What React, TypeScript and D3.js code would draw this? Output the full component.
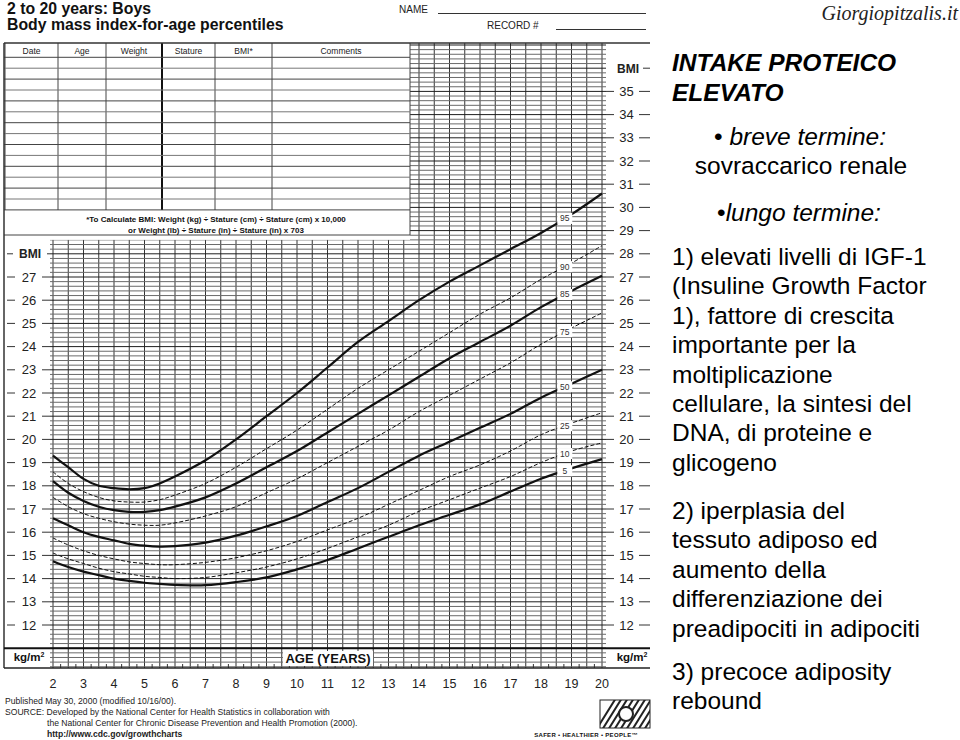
import React from "react";
import * as d3 from "d3";

// ---------- DATA ----------
const ages = [2, 2.5, 3, 3.5, 4, 4.5, 5, 5.5, 6, 7, 8, 9, 10, 11, 12, 13, 14, 15, 16, 17, 18, 19, 20];
const p95 = [19.3, 18.8, 18.3, 18.0, 17.9, 17.85, 17.9, 18.1, 18.4, 19.1, 20.0, 21.0, 22.0, 23.1, 24.2, 25.1, 26.0, 26.8, 27.5, 28.2, 28.9, 29.7, 30.6];
const p90 = [18.6, 18.1, 17.75, 17.5, 17.35, 17.3, 17.3, 17.4, 17.6, 18.1, 18.8, 19.6, 20.4, 21.3, 22.2, 23.0, 23.8, 24.6, 25.4, 26.1, 26.9, 27.6, 28.35];
const p85 = [18.2, 17.7, 17.35, 17.1, 16.95, 16.88, 16.88, 16.95, 17.1, 17.5, 18.1, 18.8, 19.5, 20.3, 21.1, 21.9, 22.7, 23.5, 24.2, 24.9, 25.7, 26.4, 27.05];
const p75 = [17.5, 17.1, 16.8, 16.6, 16.45, 16.35, 16.3, 16.3, 16.4, 16.7, 17.1, 17.7, 18.3, 19.0, 19.7, 20.4, 21.2, 21.9, 22.6, 23.3, 24.1, 24.8, 25.45];
const p50 = [16.6, 16.3, 16.0, 15.8, 15.65, 15.5, 15.42, 15.38, 15.4, 15.55, 15.85, 16.25, 16.7, 17.3, 17.9, 18.6, 19.3, 19.9, 20.5, 21.1, 21.8, 22.4, 23.0];
const p25 = [15.75, 15.45, 15.2, 15.0, 14.85, 14.72, 14.65, 14.6, 14.6, 14.7, 14.9, 15.2, 15.6, 16.1, 16.6, 17.2, 17.8, 18.4, 18.9, 19.5, 20.2, 20.7, 21.15];
const p10 = [15.1, 14.85, 14.65, 14.45, 14.3, 14.2, 14.1, 14.05, 14.0, 14.05, 14.25, 14.5, 14.85, 15.3, 15.8, 16.3, 16.9, 17.4, 17.9, 18.4, 19.0, 19.5, 19.85];
const p5 = [14.75, 14.5, 14.3, 14.15, 14.0, 13.9, 13.82, 13.77, 13.73, 13.72, 13.85, 14.05, 14.4, 14.8, 15.3, 15.8, 16.3, 16.75, 17.2, 17.75, 18.3, 18.75, 19.15];

const percentileNames = ["95", "90", "85", "75", "50", "25", "10", "5"];
const percentileValues = [p95, p90, p85, p75, p50, p25, p10, p5];
const percentileSolid = [true, false, true, false, true, false, false, true];

const ageTickLabels = d3.range(2, 21);
const leftBmiTicks = d3.range(12, 28);
const rightBmiTicks = d3.range(12, 36);

const tableHeaders = ["Date", "Age", "Weight", "Stature", "BMI*", "Comments"];
const formulaLines = [
  "*To Calculate BMI: Weight (kg) ÷ Stature (cm) ÷ Stature (cm) x 10,000",
  "or Weight (lb) ÷ Stature (in) ÷ Stature (in) x 703",
];
const titleLines = ["2 to 20 years: Boys", "Body mass index-for-age percentiles"];
const footerLines = [
  "Published May 30, 2000 (modified 10/16/00).",
  "SOURCE: Developed by the National Center for Health Statistics in collaboration with",
  "the National Center for Chronic Disease Prevention and Health Promotion (2000).",
  "http://www.cdc.gov/growthcharts",
];

const siteName = "Giorgiopitzalis.it";
const slideTitle = ["INTAKE PROTEICO", "ELEVATO"];
const bulletShort = ["breve termine:", "sovraccarico renale"];
const bulletLong = "lungo termine:";
const point1 = [
  "1) elevati livelli di IGF-1",
  "(Insuline Growth Factor",
  "1), fattore di crescita",
  "importante per la",
  "moltiplicazione",
  "cellulare, la sintesi del",
  "DNA, di proteine e",
  "glicogeno",
];
const point2 = [
  "2) iperplasia del",
  "tessuto adiposo ed",
  "aumento della",
  "differenziazione dei",
  "preadipociti in adipociti",
];
const point3 = ["3) precoce adiposity", "rebound"];

// ---------- LAYOUT ----------
const W = 960;
const H = 740;
const SANS = "'Liberation Sans', Arial, Helvetica, sans-serif";
const SERIF = "'Liberation Serif', 'Times New Roman', serif";

const x = d3.scaleLinear().domain([2, 20]).range([53, 602]);
const y = d3.scaleLinear().domain([12, 35]).range([625, 91.4]);

const frameLeft = 4;
const frameRight = 650;
const frameTop = 43;
const frameBottom = 668;
const tableRight = 410;
const tableBottom = 210;
const formulaBottom = 235;
const leftGridTopBmi = 28.6;

function valueAt(values: number[], age: number) {
  const i = d3.bisectRight(ages, age) - 1;
  const j = Math.min(i + 1, ages.length - 1);
  if (i === j) return values[i];
  const t = (age - ages[i]) / (ages[j] - ages[i]);
  return values[i] + t * (values[j] - values[i]);
}

export default function App() {
  const line = d3
    .line<[number, number]>()
    .x((d) => x(d[0]))
    .y((d) => y(d[1]))
    .curve(d3.curveCatmullRom.alpha(0.5));

  const halfYears = d3.range(2, 20.001, 0.5);
  const quarterTicks = d3.range(2.25, 20, 0.5);
  const hLines = d3.range(0, 135).map((k) => +(10.2 + k * 0.2).toFixed(1)).filter((v) => v <= 37.0);
  const gridLeft = x(2) - 3;
  const gridRight = x(20) + 4;

  const tableCols = [frameLeft + 1, 58, 106, 162, 215, 272, tableRight];
  const rowYs = d3.range(0, 15).map((k) => 57.3 + k * 10.9);

  const labelAge = 18.78;

  return (
    <svg
      width={W}
      height={H}
      viewBox={`0 0 ${W} ${H}`}
      style={{ position: "absolute", left: 0, top: 0, background: "#fff" }}
      fontFamily={SANS}
    >
      <rect x={0} y={0} width={W} height={H} fill="#fff" />

      {/* header */}
      {titleLines.map((t, i) => (
        <text key={t} x={7} y={14 + i * 16} fontSize={15.8} fontWeight="bold" fill="#111">
          {t}
        </text>
      ))}
      <text x={399} y={13} fontSize={10} fill="#222">NAME</text>
      <line x1={438} x2={646} y1={13.5} y2={13.5} stroke="#333" strokeWidth={1} />
      <text x={487} y={29} fontSize={10} fill="#222">RECORD #</text>
      <line x1={556} x2={646} y1={29.5} y2={29.5} stroke="#333" strokeWidth={1} />

      {/* vertical grid lines */}
      {halfYears.map((a) => (
        <line
          key={"v" + a}
          x1={x(a)}
          x2={x(a)}
          y1={frameTop}
          y2={frameBottom}
          stroke="#333"
          strokeWidth={1}
        />
      ))}
      {/* horizontal grid lines */}
      {hLines.map((v) => {
        const major = Math.abs(v - Math.round(v)) < 0.01;
        return (
          <line
            key={"h" + v}
            x1={gridLeft}
            x2={gridRight}
            y1={y(v)}
            y2={y(v)}
            stroke={major ? "#1e1e1e" : "#6a6a6a"}
            strokeWidth={1}
          />
        );
      })}
      {quarterTicks.map((a) => (
        <line key={"q" + a} x1={x(a)} x2={x(a)} y1={frameBottom - 4} y2={frameBottom} stroke="#333" />
      ))}

      {/* table & formula box */}
      <rect x={frameLeft} y={frameTop} width={tableRight - frameLeft} height={y(leftGridTopBmi) - frameTop} fill="#fff" />
      <rect x={frameLeft} y={frameTop} width={gridLeft - frameLeft} height={frameBottom - frameTop} fill="#fff" />
      {tableCols.map((cx, i) => (
        <line
          key={"tc" + i}
          x1={cx}
          x2={cx}
          y1={frameTop}
          y2={tableBottom}
          stroke={i === 3 ? "#111" : "#444"}
          strokeWidth={i === 3 ? 2 : 1}
        />
      ))}
      <line x1={tableRight} x2={tableRight} y1={tableBottom} y2={formulaBottom} stroke="#444" />
      {rowYs.map((ry, i) => (
        <line key={"tr" + i} x1={frameLeft} x2={tableRight} y1={ry} y2={ry} stroke={i % 2 ? "#777" : "#444"} strokeWidth={1} />
      ))}
      <line x1={frameLeft} x2={tableRight} y1={formulaBottom} y2={formulaBottom} stroke="#444" />
      {tableHeaders.map((h, i) => (
        <text
          key={h}
          x={(tableCols[i] + tableCols[i + 1]) / 2}
          y={53.5}
          fontSize={8.5}
          textAnchor="middle"
          fill="#222"
        >
          {h}
        </text>
      ))}
      {formulaLines.map((t, i) => (
        <text key={t} x={216} y={222 + i * 10.5} fontSize={8} fontWeight="bold" textAnchor="middle" fill="#111">
          {t}
        </text>
      ))}

      {/* frame */}
      <line x1={frameLeft} x2={frameRight} y1={frameTop} y2={frameTop} stroke="#333" strokeWidth={1.5} />
      <line x1={frameLeft} x2={frameLeft} y1={frameTop} y2={frameBottom} stroke="#333" strokeWidth={1.5} />
      <line x1={frameLeft} x2={frameRight} y1={frameBottom} y2={frameBottom} stroke="#222" strokeWidth={1.5} />
      <line x1={frameLeft} x2={frameRight} y1={y(11)} y2={y(11)} stroke="#111" strokeWidth={2} />

      {/* left axis */}
      <text x={30} y={y(28)} dy="0.36em" fontSize={12} fontWeight="bold" textAnchor="middle" fill="#222">BMI</text>
      <line x1={7} x2={13} y1={y(28)} y2={y(28)} stroke="#333" />
      <line x1={47} x2={gridLeft} y1={y(28)} y2={y(28)} stroke="#333" />
      {leftBmiTicks.map((v) => (
        <g key={"lt" + v}>
          <line x1={7} x2={15} y1={y(v)} y2={y(v)} stroke="#333" />
          <line x1={42} x2={gridLeft} y1={y(v)} y2={y(v)} stroke="#333" />
          <text x={29} y={y(v)} dy="0.36em" fontSize={13} textAnchor="middle" fill="#222">{v}</text>
        </g>
      ))}
      {/* right axis */}
      <text x={628} y={y(36)} dy="0.36em" fontSize={12} fontWeight="bold" textAnchor="middle" fill="#222">BMI</text>
      <line x1={643} x2={frameRight} y1={y(36)} y2={y(36)} stroke="#333" />
      {rightBmiTicks.map((v) => (
        <g key={"rt" + v}>
          <line x1={gridRight} x2={614} y1={y(v)} y2={y(v)} stroke="#333" />
          <line x1={639} x2={frameRight} y1={y(v)} y2={y(v)} stroke="#333" />
          <text x={626.5} y={y(v)} dy="0.36em" fontSize={13} textAnchor="middle" fill="#222">{v}</text>
        </g>
      ))}

      {/* kg/m2 & AGE */}
      <text x={29} y={661} fontSize={11.5} fontWeight="bold" textAnchor="middle" fill="#111">
        kg/m<tspan dy={-4} fontSize={7}>2</tspan>
      </text>
      <rect x={x(20) + 5} y={y(11) + 2} width={frameRight - x(20) - 5} height={frameBottom - y(11) - 3} fill="#fff" />
      <text x={632} y={661} fontSize={11.5} fontWeight="bold" textAnchor="middle" fill="#111">
        kg/m<tspan dy={-4} fontSize={7}>2</tspan>
      </text>
      <rect x={283} y={651} width={90} height={15} fill="#fff" />
      <text x={328} y={663} fontSize={13} fontWeight="bold" textAnchor="middle" fill="#111">AGE (YEARS)</text>

      {ageTickLabels.map((a) => (
        <text key={"a" + a} x={x(a)} y={688} fontSize={12.5} textAnchor="middle" fill="#222">
          {a}
        </text>
      ))}

      {/* percentile curves */}
      {percentileValues.map((vals, i) => (
        <path
          key={"p" + percentileNames[i]}
          d={line(ages.map((a, k) => [a, vals[k]] as [number, number])) || ""}
          fill="none"
          stroke="#111"
          strokeWidth={percentileSolid[i] ? 2.2 : 1}
          strokeDasharray={percentileSolid[i] ? undefined : "4,2"}
        />
      ))}
      {percentileValues.map((vals, i) => {
        const v = valueAt(vals, labelAge);
        return (
          <g key={"pl" + percentileNames[i]}>
            <rect x={x(labelAge) - 7.5} y={y(v) - 5.5} width={15} height={11} fill="#fff" />
            <text x={x(labelAge)} y={y(v)} dy="0.35em" fontSize={8.5} textAnchor="middle" fill="#333">
              {percentileNames[i]}
            </text>
          </g>
        );
      })}

      {/* footer */}
      {footerLines.map((t, i) => (
        <text
          key={t}
          x={i < 2 ? 5 : 47}
          y={704 + i * 11}
          fontSize={8.6}
          fontWeight={i === 3 ? "bold" : "normal"}
          fill="#222"
        >
          {t}
        </text>
      ))}
      {/* CDC logo */}
      <defs>
        <clipPath id="logoclip">
          <rect x={600} y={700} width={50} height={28} />
        </clipPath>
      </defs>
      <g clipPath="url(#logoclip)">
        {d3.range(0, 12).map((k) => (
          <line key={"lg" + k} x1={596 + k * 6} y1={730} x2={616 + k * 6} y2={698} stroke="#222" strokeWidth={2} />
        ))}
        <circle cx={626} cy={714} r={7} fill="#fff" stroke="#222" strokeWidth={2} />
      </g>
      <rect x={600} y={700} width={50} height={28} fill="none" stroke="#222" strokeWidth={1} />
      <text x={586} y={737} fontSize={6} fontWeight="bold" textAnchor="middle" fill="#111" letterSpacing={0.3}>
        SAFER • HEALTHIER • PEOPLE™
      </text>

      {/* right slide text */}
      <text x={958} y={20} fontFamily={SERIF} fontStyle="italic" fontSize={20} textAnchor="end" fill="#222">
        {siteName}
      </text>
      {slideTitle.map((t, i) => (
        <text key={t} x={672} y={71 + i * 30} fontSize={24.5} fontWeight="bold" fontStyle="italic" fill="#000">
          {t}
        </text>
      ))}
      <text x={800} y={145} fontSize={24.5} textAnchor="middle" fill="#000">
        • <tspan fontStyle="italic">{bulletShort[0]}</tspan>
      </text>
      <text x={801} y={174} fontSize={24.5} textAnchor="middle" fill="#000">
        {bulletShort[1]}
      </text>
      <text x={799} y={221} fontSize={24.5} textAnchor="middle" fill="#000">
        •<tspan fontStyle="italic">{bulletLong}</tspan>
      </text>
      {point1.map((t, i) => (
        <text key={t} x={672} y={265 + i * 29.4} fontSize={24.5} fill="#000">{t}</text>
      ))}
      {point2.map((t, i) => (
        <text key={t} x={672} y={519 + i * 29.4} fontSize={24.5} fill="#000">{t}</text>
      ))}
      {point3.map((t, i) => (
        <text key={t} x={672} y={680 + i * 29.4} fontSize={24.5} fill="#000">{t}</text>
      ))}
    </svg>
  );
}
